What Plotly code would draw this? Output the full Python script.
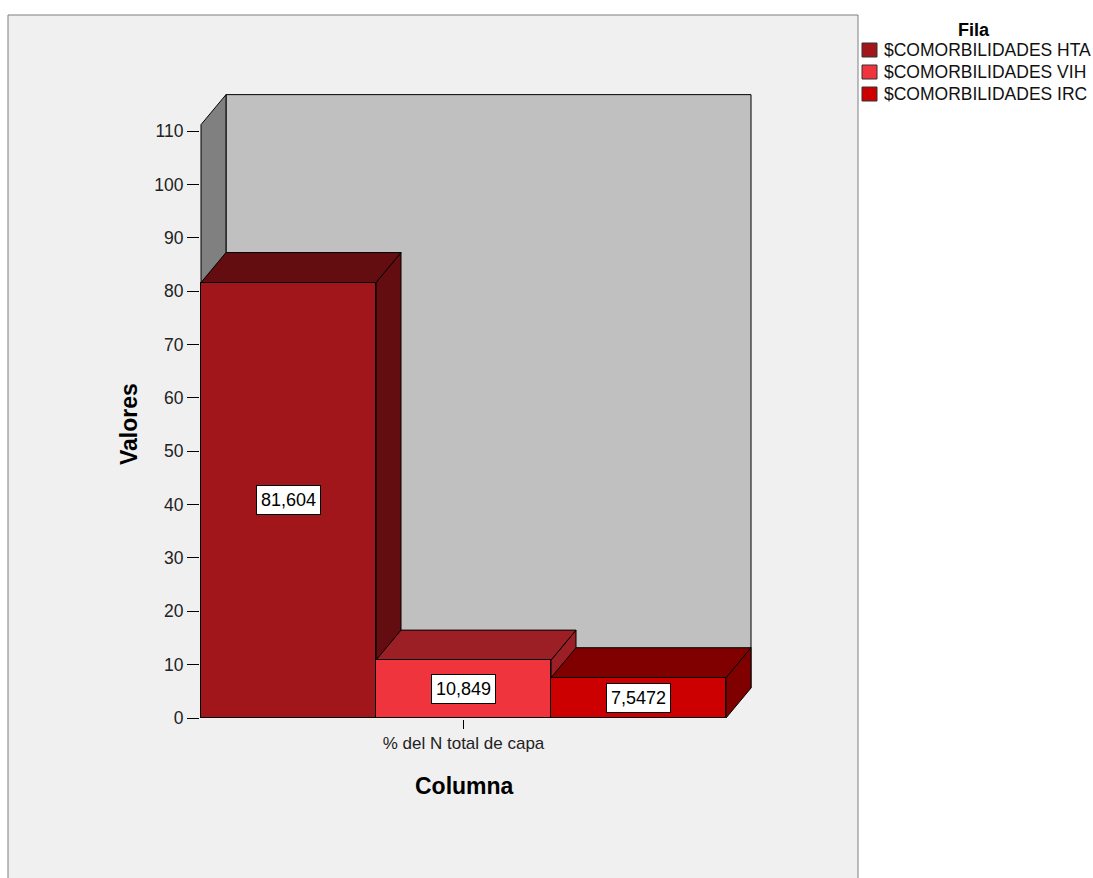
import plotly.graph_objects as go

# ---- data ----
series_names = ["$COMORBILIDADES HTA", "$COMORBILIDADES VIH", "$COMORBILIDADES IRC"]
values = [81.604, 10.849, 7.5472]
value_text = ["81,604", "10,849", "7,5472"]
column_label = "% del N total de capa"
y_tick_values = list(range(0, 111, 10))
legend_title = "Fila"
x_title = "Columna"
y_title = "Valores"

# ---- styling ----
front_colors = ["#A1161B", "#F0343D", "#CC0000"]
shade_colors = ["#640D10", "#9B1F25", "#800000"]
back_wall_color = "#C0C0C0"
side_wall_color = "#808080"
panel_color = "#F0F0F0"
FONT = "Arial, 'Liberation Sans', sans-serif"

# ---- page geometry (pixels) ----
W, H = 1093, 878
PLOT_L, PLOT_R, PLOT_T, PLOT_B = 200, 752, 93, 719
X0_PX, Y0_PX = 201, 718          # where x=0 and y=0 fall
SX, SY = 175.0, 5.336            # pixels per x unit / per y unit

# 3-D depth offsets expressed in axis units
DX = 25 / SX
DY = 30 / SY
WALL_TOP = 111.2
n = len(values)

x_range = [(PLOT_L - X0_PX) / SX, (PLOT_R - X0_PX) / SX]
y_range = [(Y0_PX - PLOT_B) / SY, (Y0_PX - PLOT_T) / SY]


def px_to_paper_x(p):
    return (p - PLOT_L) / (PLOT_R - PLOT_L)


def px_to_paper_y(q):
    return (PLOT_B - q) / (PLOT_B - PLOT_T)


def poly(points):
    return "M " + " L ".join(f"{x:.5f},{y:.5f}" for x, y in points) + " Z"


shapes = []

# chart panel behind everything
shapes.append(dict(
    type="rect", xref="paper", yref="paper", layer="below",
    x0=px_to_paper_x(8), x1=px_to_paper_x(858),
    y0=px_to_paper_y(905), y1=px_to_paper_y(15),
    fillcolor=panel_color, line=dict(color="#7F7F7F", width=1),
))

# walls of the 3-D box
shapes.append(dict(
    type="path", xref="x", yref="y", layer="below",
    path=poly([(DX, DY), (n + DX, DY), (n + DX, WALL_TOP + DY), (DX, WALL_TOP + DY)]),
    fillcolor=back_wall_color, line=dict(color="black", width=1),
))
shapes.append(dict(
    type="path", xref="x", yref="y", layer="below",
    path=poly([(0, 0), (0, WALL_TOP), (DX, WALL_TOP + DY), (DX, DY)]),
    fillcolor=side_wall_color, line=dict(color="black", width=1),
))

# top and right-side faces of each bar, drawn left to right
for i, v in enumerate(values):
    left, right = i, i + 1
    shapes.append(dict(
        type="path", xref="x", yref="y", layer="below",
        path=poly([(right, 0), (right, v), (right + DX, v + DY), (right + DX, DY)]),
        fillcolor=shade_colors[i], line=dict(color="black", width=1),
    ))
    shapes.append(dict(
        type="path", xref="x", yref="y", layer="below",
        path=poly([(left, v), (right, v), (right + DX, v + DY), (left + DX, v + DY)]),
        fillcolor=shade_colors[i], line=dict(color="black", width=1),
    ))

fig = go.Figure()

# front faces of the bars
fig.add_trace(go.Bar(
    x=[i + 0.5 for i in range(n)],
    y=values,
    width=1.0,
    marker=dict(color=front_colors, line=dict(color="black", width=1)),
    showlegend=False,
    hoverinfo="skip",
))

annotations = []

# value labels in the middle of each bar
for i, v in enumerate(values):
    annotations.append(dict(
        x=i + 0.5, y=v / 2, xref="x", yref="y", text=value_text[i],
        xanchor="center", yanchor="middle",
        showarrow=False, bgcolor="white", bordercolor="black", borderwidth=1,
        borderpad=4, font=dict(family=FONT, size=18, color="black"),
    ))

# axis titles
annotations.append(dict(
    x=px_to_paper_x(129), y=px_to_paper_y(424), xref="paper", yref="paper",
    xanchor="center", yanchor="middle",
    text=f"<b>{y_title}</b>", textangle=-90, showarrow=False,
    font=dict(family=FONT, size=23, color="black"),
))
annotations.append(dict(
    x=px_to_paper_x(464), y=px_to_paper_y(786), xref="paper", yref="paper",
    xanchor="center", yanchor="middle",
    text=f"<b>{x_title}</b>", showarrow=False,
    font=dict(family=FONT, size=23, color="black"),
))

# legend
annotations.append(dict(
    x=px_to_paper_x(974), y=px_to_paper_y(30), xref="paper", yref="paper",
    xanchor="center", yanchor="middle",
    text=f"<b>{legend_title}</b>", showarrow=False,
    font=dict(family=FONT, size=18, color="black"),
))
for i, name in enumerate(series_names):
    cy = 50 + 22 * i
    shapes.append(dict(
        type="rect", xref="paper", yref="paper",
        x0=px_to_paper_x(862), x1=px_to_paper_x(877),
        y0=px_to_paper_y(cy + 7), y1=px_to_paper_y(cy - 7),
        fillcolor=front_colors[i], line=dict(color="#333333", width=1),
    ))
    annotations.append(dict(
        x=px_to_paper_x(882), y=px_to_paper_y(cy), xref="paper", yref="paper",
        xanchor="left", yanchor="middle", text=name, showarrow=False,
        font=dict(family=FONT, size=17.5, color="#111111"),
    ))

fig.update_layout(
    width=W, height=H, autosize=False,
    margin=dict(l=PLOT_L, r=W - PLOT_R, t=PLOT_T, b=H - PLOT_B, pad=0),
    paper_bgcolor="white", plot_bgcolor="rgba(0,0,0,0)",
    shapes=shapes, annotations=annotations, showlegend=False,
    bargap=0,
    xaxis=dict(
        range=x_range, tickvals=[n / 2], ticktext=[column_label],
        ticks="outside", ticklen=9, tickcolor="black", tickwidth=1,
        showgrid=False, zeroline=False, showline=False, fixedrange=True,
        tickfont=dict(family=FONT, size=17, color="#222222"),
    ),
    yaxis=dict(
        range=y_range, tickvals=y_tick_values,
        ticks="outside", ticklen=12, tickcolor="black", tickwidth=1,
        showgrid=False, zeroline=False, showline=False, fixedrange=True,
        tickfont=dict(family=FONT, size=17.5, color="#222222"),
    ),
)

fig.write_html("out.html")
